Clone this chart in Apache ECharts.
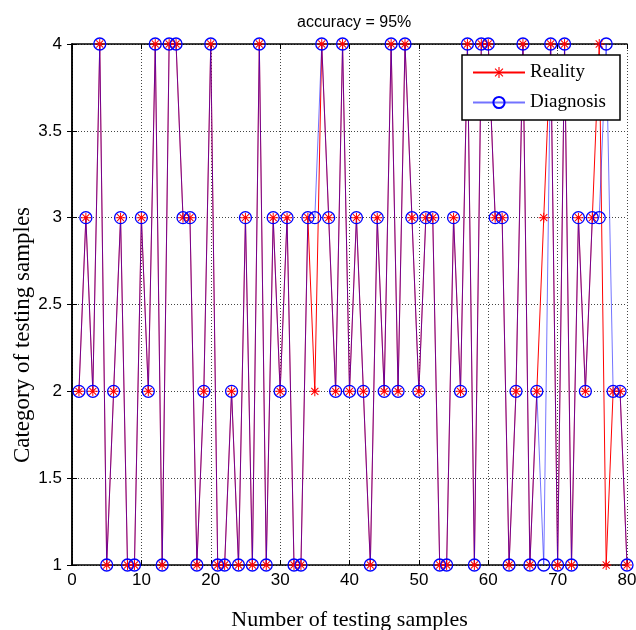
<!DOCTYPE html>
<html>
<head>
<meta charset="utf-8">
<script src="https://cdn.jsdelivr.net/npm/echarts@6/dist/echarts.min.js"></script>
<style>
  html, body { margin: 0; padding: 0; background: #fff; }
  #main { width: 636px; height: 630px; }
</style>
</head>
<body>
<div id="main"></div>
<script>
// category of each testing sample (sample 1..80)
var reality = [
    2, 3, 2, 4, 1, 2, 3, 1, 1, 3,
    2, 4, 1, 4, 4, 3, 3, 1, 2, 4,
    1, 1, 2, 1, 3, 1, 4, 1, 3, 2,
    3, 1, 1, 3, 2, 4, 3, 2, 4, 2,
    3, 2, 1, 3, 2, 4, 2, 4, 3, 2,
    3, 3, 1, 1, 3, 2, 4, 1, 4, 4,
    3, 3, 1, 2, 4, 1, 2, 3, 4, 1,
    4, 1, 3, 2, 3, 4, 1, 2, 2, 1
];
var diagnosis = [
    2, 3, 2, 4, 1, 2, 3, 1, 1, 3,
    2, 4, 1, 4, 4, 3, 3, 1, 2, 4,
    1, 1, 2, 1, 3, 1, 4, 1, 3, 2,
    3, 1, 1, 3, 3, 4, 3, 2, 4, 2,
    3, 2, 1, 3, 2, 4, 2, 4, 3, 2,
    3, 3, 1, 1, 3, 2, 4, 1, 4, 4,
    3, 3, 1, 2, 4, 1, 2, 1, 4, 1,
    4, 1, 3, 2, 3, 3, 4, 2, 2, 1
];
var seriesNames = ['Reality', 'Diagnosis'];
var titleText = 'accuracy = 95%';

// matlab style '*' marker
var starPath = 'path://M9 0L11 0L11 20L9 20Z M0 9L20 9L20 11L0 11Z ' +
    'M2.2 3.6L3.6 2.2L17.8 16.4L16.4 17.8Z M16.4 2.2L17.8 3.6L3.6 17.8L2.2 16.4Z';

function toPoints(arr) {
    return arr.map(function (v, i) { return [i + 1, v]; });
}

var chart = echarts.init(document.getElementById('main'));

var sans = 'Liberation Sans';
var serif = 'Liberation Serif';

var frameAxis = {
    axisLine: { show: true, lineStyle: { color: '#000', width: 1.5 } },
    axisTick: { show: true, inside: true, length: 5, lineStyle: { color: '#000' } },
    axisLabel: { show: false },
    splitLine: { show: false }
};

var option = {
    backgroundColor: '#fff',
    animation: false,
    title: {
        text: titleText,
        left: 292,
        top: 10,
        textStyle: { fontFamily: sans, fontSize: 16, fontWeight: 'normal', color: '#000' }
    },
    grid: { left: 72, right: 9, top: 44, bottom: 65, containLabel: false, outerBoundsMode: 'none' },
    legend: {
        data: seriesNames,
        orient: 'vertical',
        right: 16,
        top: 55,
        itemWidth: 52,
        itemHeight: 14,
        itemGap: 11,
        padding: [8, 14, 8, 10],
        backgroundColor: '#fff',
        borderColor: '#000',
        borderWidth: 1.5,
        borderRadius: 0,
        textStyle: { fontFamily: serif, fontSize: 19, color: '#000' }
    },
    xAxis: [{
        type: 'value',
        min: 0,
        max: 80,
        interval: 10,
        name: 'Number of testing samples',
        nameLocation: 'middle',
        nameGap: 44,
        nameTextStyle: { fontFamily: serif, fontSize: 22, color: '#000' },
        axisLine: { lineStyle: { color: '#000', width: 1.5 } },
        axisTick: { inside: true, length: 5, lineStyle: { color: '#000' } },
        axisLabel: { fontFamily: sans, fontSize: 17, color: '#000', margin: 7 },
        splitLine: { show: true, lineStyle: { color: '#444', type: [1, 2], width: 1 } }
    }, Object.assign({ type: 'value', position: 'top', min: 0, max: 80, interval: 10 }, frameAxis)],
    yAxis: [{
        type: 'value',
        min: 1,
        max: 4,
        interval: 0.5,
        axisLine: { show: true, lineStyle: { color: '#000', width: 1.5 } },
        axisTick: { show: true, inside: true, length: 5, lineStyle: { color: '#000' } },
        axisLabel: { fontFamily: sans, fontSize: 17, color: '#000', margin: 10 },
        splitLine: { show: true, lineStyle: { color: '#444', type: [1, 2], width: 1 } }
    }, Object.assign({ type: 'value', position: 'right', min: 1, max: 4, interval: 0.5 }, frameAxis)],
    graphic: [{
        type: 'text',
        x: 23,
        y: 335,
        rotation: Math.PI / 2,
        style: {
            text: 'Category of testing samples',
            font: '23px "Liberation Serif"',
            fill: '#000',
            textAlign: 'center',
            textVerticalAlign: 'middle'
        }
    }],
    series: [
        {
            name: seriesNames[0],
            type: 'line',
            data: toPoints(reality),
            symbol: starPath,
            symbolSize: 10,
            showAllSymbol: true,
            itemStyle: { color: '#ff0000' },
            lineStyle: { color: '#ff0000', width: 1 }
        },
        {
            name: seriesNames[1],
            type: 'line',
            data: toPoints(diagnosis),
            symbol: 'circle',
            symbolSize: 12,
            showAllSymbol: true,
            itemStyle: { color: 'rgba(0,0,0,0)', borderColor: '#0000ff', borderWidth: 1.3 },
            lineStyle: { color: '#0000ff', width: 1, opacity: 0.55 }
        }
    ]
};

chart.setOption(option);
</script>
</body>
</html>
